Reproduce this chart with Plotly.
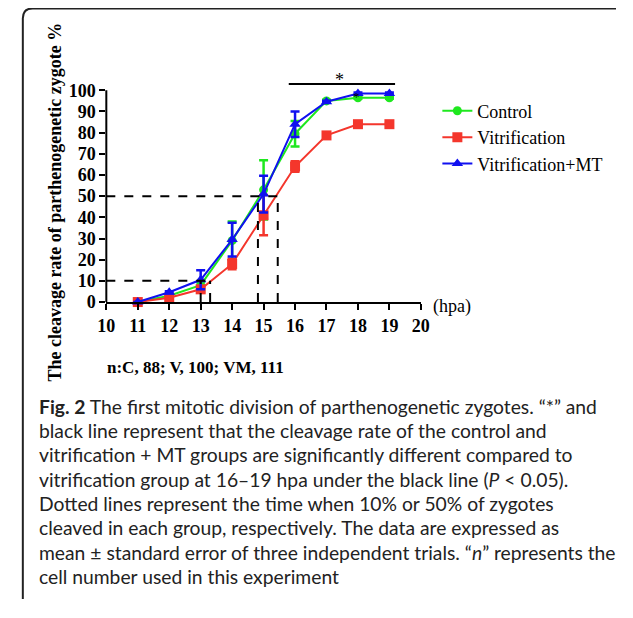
import plotly.graph_objects as go

# ---------------- data ----------------
hours = [11, 12, 13, 14, 15, 16, 17, 18, 19]
control = [0, 3, 8, 29, 53, 79.5, 95, 96.5, 96.5]
control_err = [0, 0.5, 1.5, 9, 14, 6, 0.5, 0.5, 0.5]
vitrification = [0, 2, 6, 18, 41, 64, 78.7, 84, 84]
vitrification_err = [0, 0.5, 1, 2.5, 9.5, 2.5, 1, 0.5, 0.5]
vit_mt = [0, 4.6, 10.5, 29.5, 51, 84, 94.6, 98.5, 98.5]
vit_mt_err = [0, 0.5, 4.5, 8, 8.7, 6, 0.5, 0.5, 0.5]

x_ticks = list(range(10, 21))
y_ticks = list(range(0, 101, 10))

ten_pct_times = [13.0, 13.3]
fifty_pct_times = [14.82, 15.45]
sig_start, sig_end, sig_level = 15.8, 19.18, 103
star_x, star_y = 17.42, 105
small_star_x, small_star_y = 17.96, 96.9

caption_lines = [
    "<b>Fig. 2</b> The first mitotic division of parthenogenetic zygotes. \u201c*\u201d and",
    "black line represent that the cleavage rate of the control and",
    "vitrification + MT groups are significantly different compared to",
    "vitrification group at 16\u201319 hpa under the black line (<i>P</i> < 0.05).",
    "Dotted lines represent the time when 10% or 50% of zygotes",
    "cleaved in each group, respectively. The data are expressed as",
    "mean \u00b1 standard error of three independent trials. \u201c<i>n</i>\u201d represents the",
    "cell number used in this experiment",
]

# page is 633x618 with the default 8px body margin -> figure 617x602 at (8, 8)
OFF = 8
W, H = 633 - 2 * OFF, 618 - 2 * OFF
def px(x):
    return (x - OFF) / W
def py(y):
    return 1 - (y - OFF) / H

SERIF = "Liberation Serif, Times New Roman, serif"
SANS = "Lato, Open Sans, sans-serif"

fig = go.Figure()

series = [
    ("Control", control, control_err, "#1fe81f", "circle", 9),
    ("Vitrification", vitrification, vitrification_err, "#f4362c", "square", 10),
    ("Vitrification+MT", vit_mt, vit_mt_err, "#1010f0", "triangle-up", 10),
]
for name, vals, errs, col, sym, size in series:
    fig.add_trace(go.Scatter(
        x=hours, y=vals, name=name, mode="lines+markers",
        line=dict(color=col, width=2),
        marker=dict(color=col, symbol=sym, size=size),
        error_y=dict(type="data", array=errs, visible=True, color=col,
                     thickness=2.5, width=4.5),
        cliponaxis=False,
    ))

shapes = []
dash = dict(color="black", width=2, dash="dash")
shapes.append(dict(type="line", xref="x", yref="y", x0=10, x1=max(ten_pct_times),
                   y0=10, y1=10, line=dash))
for t in ten_pct_times:
    shapes.append(dict(type="line", xref="x", yref="y", x0=t, x1=t, y0=0, y1=10, line=dash))
shapes.append(dict(type="line", xref="x", yref="y", x0=10, x1=max(fifty_pct_times),
                   y0=50, y1=50, line=dash))
for t in fifty_pct_times:
    shapes.append(dict(type="line", xref="x", yref="y", x0=t, x1=t, y0=0, y1=50, line=dash))
shapes.append(dict(type="line", xref="x", yref="y", x0=sig_start, x1=sig_end,
                   y0=sig_level, y1=sig_level, line=dict(color="black", width=2)))
shapes.append(dict(type="line", xref="paper", yref="y", x0=px(100), x1=px(100),
                   y0=0, y1=100, line=dict(color="black", width=2)))
r = 10
path = (f"M {px(625)},{py(8.5)} "
        f"L {px(14 + r)},{py(8.5)} Q {px(14)},{py(8.5)} {px(14)},{py(8.5 + r)} "
        f"L {px(14)},{py(609)}")
shapes.append(dict(type="path", xref="paper", yref="paper", path=path,
                   line=dict(color="#222", width=2)))

annotations = [
    dict(text="*", x=star_x, y=star_y, xref="x", yref="y",
         xanchor="center", yanchor="middle",
         showarrow=False, font=dict(family=SERIF, size=18, color="black")),
    dict(text="*", x=small_star_x, y=small_star_y, xref="x", yref="y",
         xanchor="center", yanchor="middle",
         showarrow=False, font=dict(family=SERIF, size=13, color="black")),
    dict(text="The cleavage rate of parthenogenetic zygote %", x=px(47), y=py(205),
         xref="paper", yref="paper", textangle=-90, showarrow=False,
         xanchor="center", yanchor="middle",
         font=dict(family=SERIF, size=18, color="black", weight="bold")),
    dict(text="(hpa)", x=px(456), y=py(312), xref="paper", yref="paper", showarrow=False,
         xanchor="center", yanchor="middle",
         font=dict(family=SERIF, size=18, color="black")),
    dict(text="<b>n:C, 88; V, 100; VM, 111</b>", x=px(192), y=py(374), xref="paper",
         yref="paper", showarrow=False, xanchor="center", yanchor="middle",
         font=dict(family=SERIF, size=17, color="black")),
]
for i, line in enumerate(caption_lines):
    annotations.append(dict(text=line, x=px(29), y=py(413 + i * 24.7), xref="paper",
                            yref="paper", xanchor="left", yanchor="middle", showarrow=False,
                            font=dict(family=SANS, size=19.3, color="#222")))

fig.update_layout(
    width=W, height=H, autosize=False,
    margin=dict(l=0, r=0, t=0, b=0),
    paper_bgcolor="white", plot_bgcolor="white",
    showlegend=True,
    legend=dict(x=px(441), y=py(94), xanchor="left", yanchor="top",
                font=dict(family=SERIF, size=18, color="black"),
                bgcolor="rgba(0,0,0,0)", tracegroupgap=0, itemwidth=30),
    xaxis=dict(domain=[px(100), px(424)], range=[10, 20], tickvals=x_ticks,
               showline=True, linecolor="black", linewidth=2, ticks="outside",
               ticklen=6, tickwidth=2, tickcolor="black", showgrid=False, zeroline=False,
               tickfont=dict(family=SERIF, size=18, color="black", weight="bold")),
    yaxis=dict(domain=[py(307), py(307 - 2.153 * 110)], range=[0, 110], tickvals=y_ticks,
               showline=False, ticks="outside", ticklen=6, tickwidth=2, tickcolor="black",
               showgrid=False, zeroline=False, ticklabelstandoff=0,
               tickfont=dict(family=SERIF, size=18, color="black", weight="bold")),
    shapes=shapes,
    annotations=annotations,
)

fig.write_html("out.html", config={"displayModeBar": False})
